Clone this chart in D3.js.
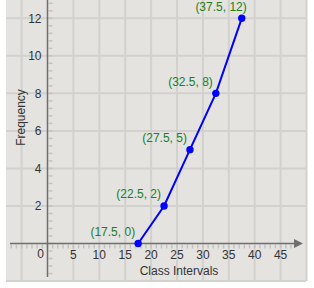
<!DOCTYPE html>
<html>
<head>
<meta charset="utf-8">
<script src="https://cdn.jsdelivr.net/npm/d3@7"></script>
<style>
  html, body { margin: 0; padding: 0; background: #ffffff; }
  svg { display: block; font-family: "Liberation Sans", Arial, sans-serif; }
</style>
</head>
<body>
<svg id="chart" width="314" height="288"></svg>
<script>
// ---- data ----
const classMarks = [17.5, 22.5, 27.5, 32.5, 37.5];
const frequencies = [0, 2, 5, 8, 12];
const xTickValues = [5, 10, 15, 20, 25, 30, 35, 40, 45];
const yTickValues = [2, 4, 6, 8, 10, 12];
const xTitle = "Class Intervals";
const yTitle = "Frequency";

// ---- layout ----
const svg = d3.select("#chart");
const x = d3.scaleLinear().domain([0, 45]).range([47.5, 280.6]);
const y = d3.scaleLinear().domain([0, 12]).range([243.5, 18.3]);
const plotLeft = 6, plotRight = 306, plotTop = 0, plotBottom = 281;

svg.append("rect").attr("x", plotLeft).attr("y", plotTop)
  .attr("width", plotRight - plotLeft).attr("height", plotBottom - plotTop)
  .attr("fill", "#e4e3e0");

const gridColor = "#d2d1ce";
// vertical grid lines
svg.append("g").selectAll("line").data(d3.range(-5, 51, 5).filter(v => v !== 0))
  .join("line")
  .attr("x1", d => x(d)).attr("x2", d => x(d))
  .attr("y1", plotTop).attr("y2", plotBottom)
  .attr("stroke", gridColor).attr("stroke-width", 2);
// horizontal grid lines
svg.append("g").selectAll("line").data(d3.range(-2, 15, 2).filter(v => v !== 0))
  .join("line")
  .attr("x1", plotLeft).attr("x2", plotRight)
  .attr("y1", d => y(d)).attr("y2", d => y(d))
  .attr("stroke", gridColor).attr("stroke-width", 2);

// minor ticks
const minorColor = "#c4c3c0";
svg.append("g").selectAll("line").data(d3.range(-7, 48, 1))
  .join("line")
  .attr("x1", d => x(d)).attr("x2", d => x(d))
  .attr("y1", y(0) + 1).attr("y2", y(0) + 5)
  .attr("stroke", minorColor).attr("stroke-width", 1.5);
svg.append("g").selectAll("line").data(d3.range(-1.6, 13.2, 0.4))
  .join("line")
  .attr("x1", x(0) + 1).attr("x2", x(0) + 5)
  .attr("y1", d => y(d)).attr("y2", d => y(d))
  .attr("stroke", minorColor).attr("stroke-width", 1.5);

// axes lines
const axisColor = "#6e6e6e";
svg.append("line").attr("x1", 10).attr("x2", 297)
  .attr("y1", y(0)).attr("y2", y(0))
  .attr("stroke", axisColor).attr("stroke-width", 1.5);
svg.append("path")
  .attr("d", `M${303},${y(0)} L${294},${y(0) - 4.5} L${294},${y(0) + 4.5} Z`)
  .attr("fill", axisColor);
svg.append("line").attr("x1", x(0)).attr("x2", x(0))
  .attr("y1", 0).attr("y2", 277)
  .attr("stroke", axisColor).attr("stroke-width", 1.5);

// tick labels
const textColor = "#333333";
svg.append("g").selectAll("text").data(xTickValues).join("text")
  .attr("x", d => x(d)).attr("y", y(0) + 15)
  .attr("text-anchor", "middle").attr("font-size", 12).attr("fill", textColor)
  .text(d => d);
svg.append("g").selectAll("text").data(yTickValues).join("text")
  .attr("x", x(0) - 6).attr("y", d => y(d))
  .attr("dy", "0.35em")
  .attr("text-anchor", "end").attr("font-size", 12).attr("fill", textColor)
  .text(d => d);
svg.append("text").attr("x", x(0) - 3.5).attr("y", y(0) + 14)
  .attr("text-anchor", "end").attr("font-size", 12).attr("fill", textColor)
  .text(0);

// axis titles
svg.append("text").attr("x", 179).attr("y", 275)
  .attr("text-anchor", "middle").attr("font-size", 12).attr("fill", textColor)
  .text(xTitle);
svg.append("text").attr("transform", "translate(25,117.5) rotate(-90)")
  .attr("text-anchor", "middle").attr("font-size", 12).attr("fill", textColor)
  .text(yTitle);

// line + points
const pts = classMarks.map((c, i) => ({ c, f: frequencies[i] }));
svg.append("path").datum(pts)
  .attr("d", d3.line().x(d => x(d.c)).y(d => y(d.f)))
  .attr("fill", "none").attr("stroke", "#0000ff").attr("stroke-width", 2);
svg.append("g").selectAll("circle").data(pts).join("circle")
  .attr("cx", d => x(d.c)).attr("cy", d => y(d.f)).attr("r", 3.7)
  .attr("fill", "#0000ff");

// point labels (last one nudged so it sits over the top point)
const labelNudge = [0, 0, 0, 0, 8];
svg.append("g").selectAll("text").data(pts).join("text")
  .attr("x", (d, i) => x(d.c) - 3 + labelNudge[i])
  .attr("y", d => y(d.f) - 7.5)
  .attr("text-anchor", "end").attr("font-size", 12).attr("fill", "#1e7d1e")
  .text(d => `(${d.c}, ${d.f})`);
</script>
</body>
</html>
